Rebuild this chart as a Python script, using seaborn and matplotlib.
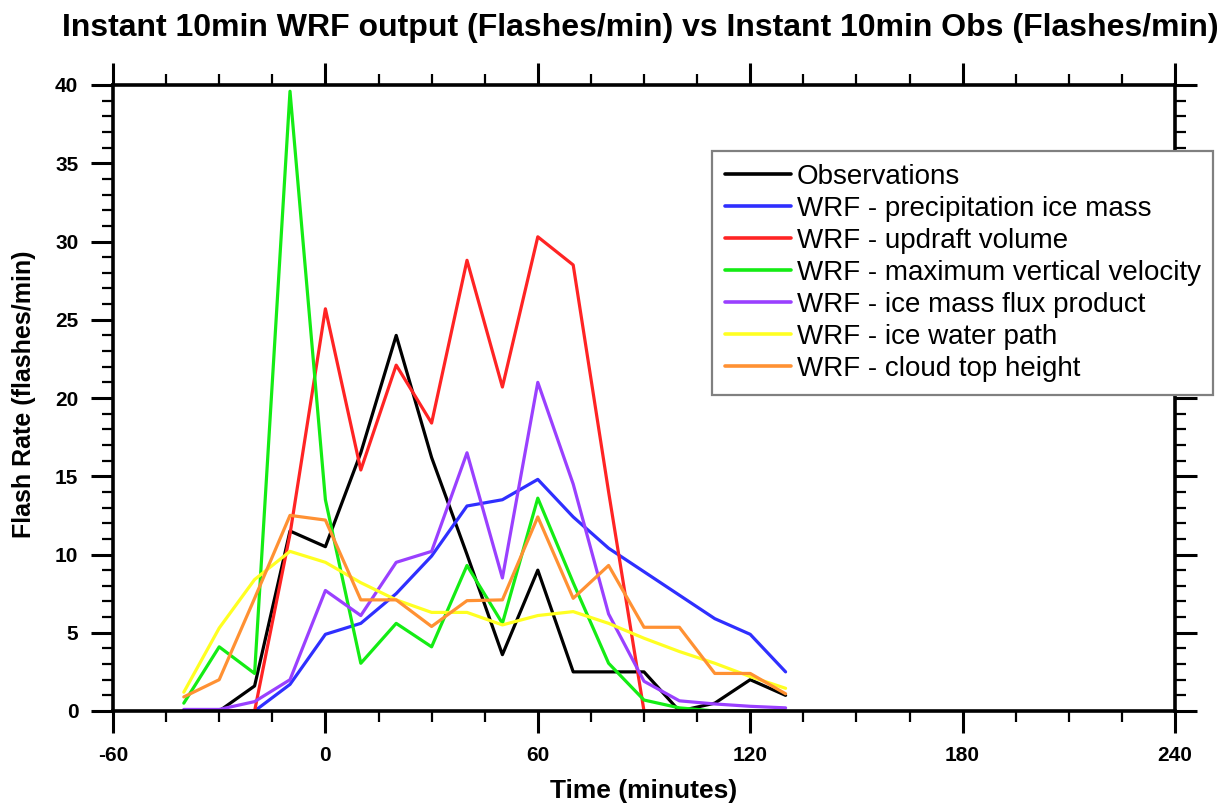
import matplotlib
matplotlib.use("Agg")
import matplotlib.pyplot as plt
import numpy as np
import pandas as pd
import seaborn as sns
from matplotlib.ticker import MultipleLocator

# ---------------- data ----------------
times = [-40, -30, -20, -10, 0, 10, 20, 30, 40, 50, 60, 70, 80, 90, 100, 110, 120, 130]

obs = [0.0, 0.0, 1.6, 11.5, 10.5, 16.5, 24.0, 16.2, 10.0, 3.6, 9.0, 2.5, 2.5, 2.5, 0.0, 0.5, 2.0, 1.0]
precip_ice_mass = [0.0, 0.0, 0.0, 1.7, 4.9, 5.6, 7.5, 9.9, 13.1, 13.5, 14.8, 12.4, 10.4, 8.9, 7.4, 5.9, 4.9, 2.5]
updraft_volume = [0.0, 0.0, 0.0, 11.3, 25.7, 15.4, 22.1, 18.4, 28.8, 20.7, 30.3, 28.5, 14.0, 0.0, 0.0, 0.0, 0.0, 0.0]
max_vert_velocity = [0.5, 4.1, 2.4, 39.6, 13.5, 3.05, 5.6, 4.1, 9.3, 5.6, 13.6, 8.2, 3.05, 0.7, 0.2, 0.0, 0.0, 0.0]
ice_mass_flux = [0.1, 0.1, 0.6, 2.0, 7.7, 6.1, 9.5, 10.2, 16.5, 8.5, 21.0, 14.5, 6.2, 1.9, 0.65, 0.45, 0.3, 0.2]
ice_water_path = [1.2, 5.3, 8.4, 10.2, 9.5, 8.2, 7.1, 6.3, 6.3, 5.5, 6.1, 6.35, 5.6, 4.65, 3.8, 3.05, 2.2, 1.45]
cloud_top_height = [0.9, 2.0, 7.2, 12.5, 12.2, 7.1, 7.1, 5.4, 7.05, 7.1, 12.4, 7.2, 9.3, 5.35, 5.35, 2.4, 2.4, 1.1]

series_labels = [
    "Observations",
    "WRF - precipitation ice mass",
    "WRF - updraft volume",
    "WRF - maximum vertical velocity",
    "WRF - ice mass flux product",
    "WRF - ice water path",
    "WRF - cloud top height",
]
series_colors = ["#000000", "#2f2fff", "#ff2424", "#14ec14", "#9a40ff", "#ffff22", "#ff9133"]

x_ticks = [-60, 0, 60, 120, 180, 240]
y_ticks = [0, 5, 10, 15, 20, 25, 30, 35, 40]

title = "Instant 10min WRF output (Flashes/min) vs Instant 10min Obs (Flashes/min)"
x_label = "Time (minutes)"
y_label = "Flash Rate (flashes/min)"

# ---------------- build long-form table ----------------
values = [obs, precip_ice_mass, updraft_volume, max_vert_velocity,
          ice_mass_flux, ice_water_path, cloud_top_height]
rows = []
for lab, vals in zip(series_labels, values):
    for t, v in zip(times, vals):
        rows.append({"time": t, "rate": v, "series": lab})
df = pd.DataFrame(rows)

sns.set_theme(style="white")
plt.rcParams['font.family'] = ['Liberation Sans', 'DejaVu Sans']
plt.rcParams['axes.unicode_minus'] = False
plt.rcParams['text.color'] = 'black'
plt.rcParams['xtick.color'] = 'black'
plt.rcParams['ytick.color'] = 'black'
plt.rcParams['xtick.labelcolor'] = 'black'
plt.rcParams['ytick.labelcolor'] = 'black'

W, H = 1229, 808
fig = plt.figure(figsize=(W / 100, H / 100), dpi=100)
ax = fig.add_axes([113 / W, (H - 711) / H, (1175 - 113) / W, (711 - 85) / H])

sns.lineplot(data=df, x="time", y="rate", hue="series", hue_order=series_labels,
             palette=dict(zip(series_labels, series_colors)), linewidth=2.3,
             errorbar=None, ax=ax, legend=True, sort=True)

ax.set_xlim(-60, 240)
ax.set_ylim(0, 40)
ax.set_xticks(x_ticks)
ax.set_yticks(y_ticks)
ax.set_xticklabels([str(v) for v in x_ticks])
ax.set_yticklabels([str(v) for v in y_ticks])
ax.xaxis.set_minor_locator(MultipleLocator(15))
ax.yaxis.set_minor_locator(MultipleLocator(1))
ax.set_xlabel("")
ax.set_ylabel("")

for sp in ax.spines.values():
    sp.set_visible(True)
    sp.set_color("black")
    sp.set_linewidth(2.6)

ax.tick_params(axis="both", which="major", direction="out", length=16, width=2.2,
               color="black", labelcolor="black", top=True, right=True, bottom=True, left=True,
               labelsize=15, pad=9)
ax.tick_params(axis="both", which="minor", direction="out", length=8, width=1.6,
               color="black", top=True, right=True, bottom=True, left=True)
for lbl in ax.get_xticklabels() + ax.get_yticklabels():
    lbl.set_fontweight("bold")

handles, labels = ax.get_legend_handles_labels()
for h in handles:
    h.set_linewidth(2.6)
leg = ax.legend(handles, labels, loc="upper left",
                bbox_to_anchor=(712 / W, 1 - 151 / H), bbox_transform=fig.transFigure,
                frameon=True, fancybox=False, framealpha=1, edgecolor="#808080",
                fontsize=20, handlelength=2.4, handletextpad=0.2, labelspacing=0.22,
                borderpad=0.45, borderaxespad=0)
leg.get_frame().set_linewidth(1.6)
for txt in leg.get_texts():
    txt.set_color("black")
leg.set_zorder(10)

fig.text(640 / W, 1 - 28 / H, title, ha="center", va="center", fontsize=23, fontweight="bold")
fig.text(644 / W, 1 - 791 / H, x_label, ha="center", va="center", fontsize=19, fontweight="bold")
fig.text(24 / W, 1 - 394 / H, y_label, ha="center", va="center", rotation=90, fontsize=18, fontweight="bold")

fig.savefig("out.png", dpi=100)
